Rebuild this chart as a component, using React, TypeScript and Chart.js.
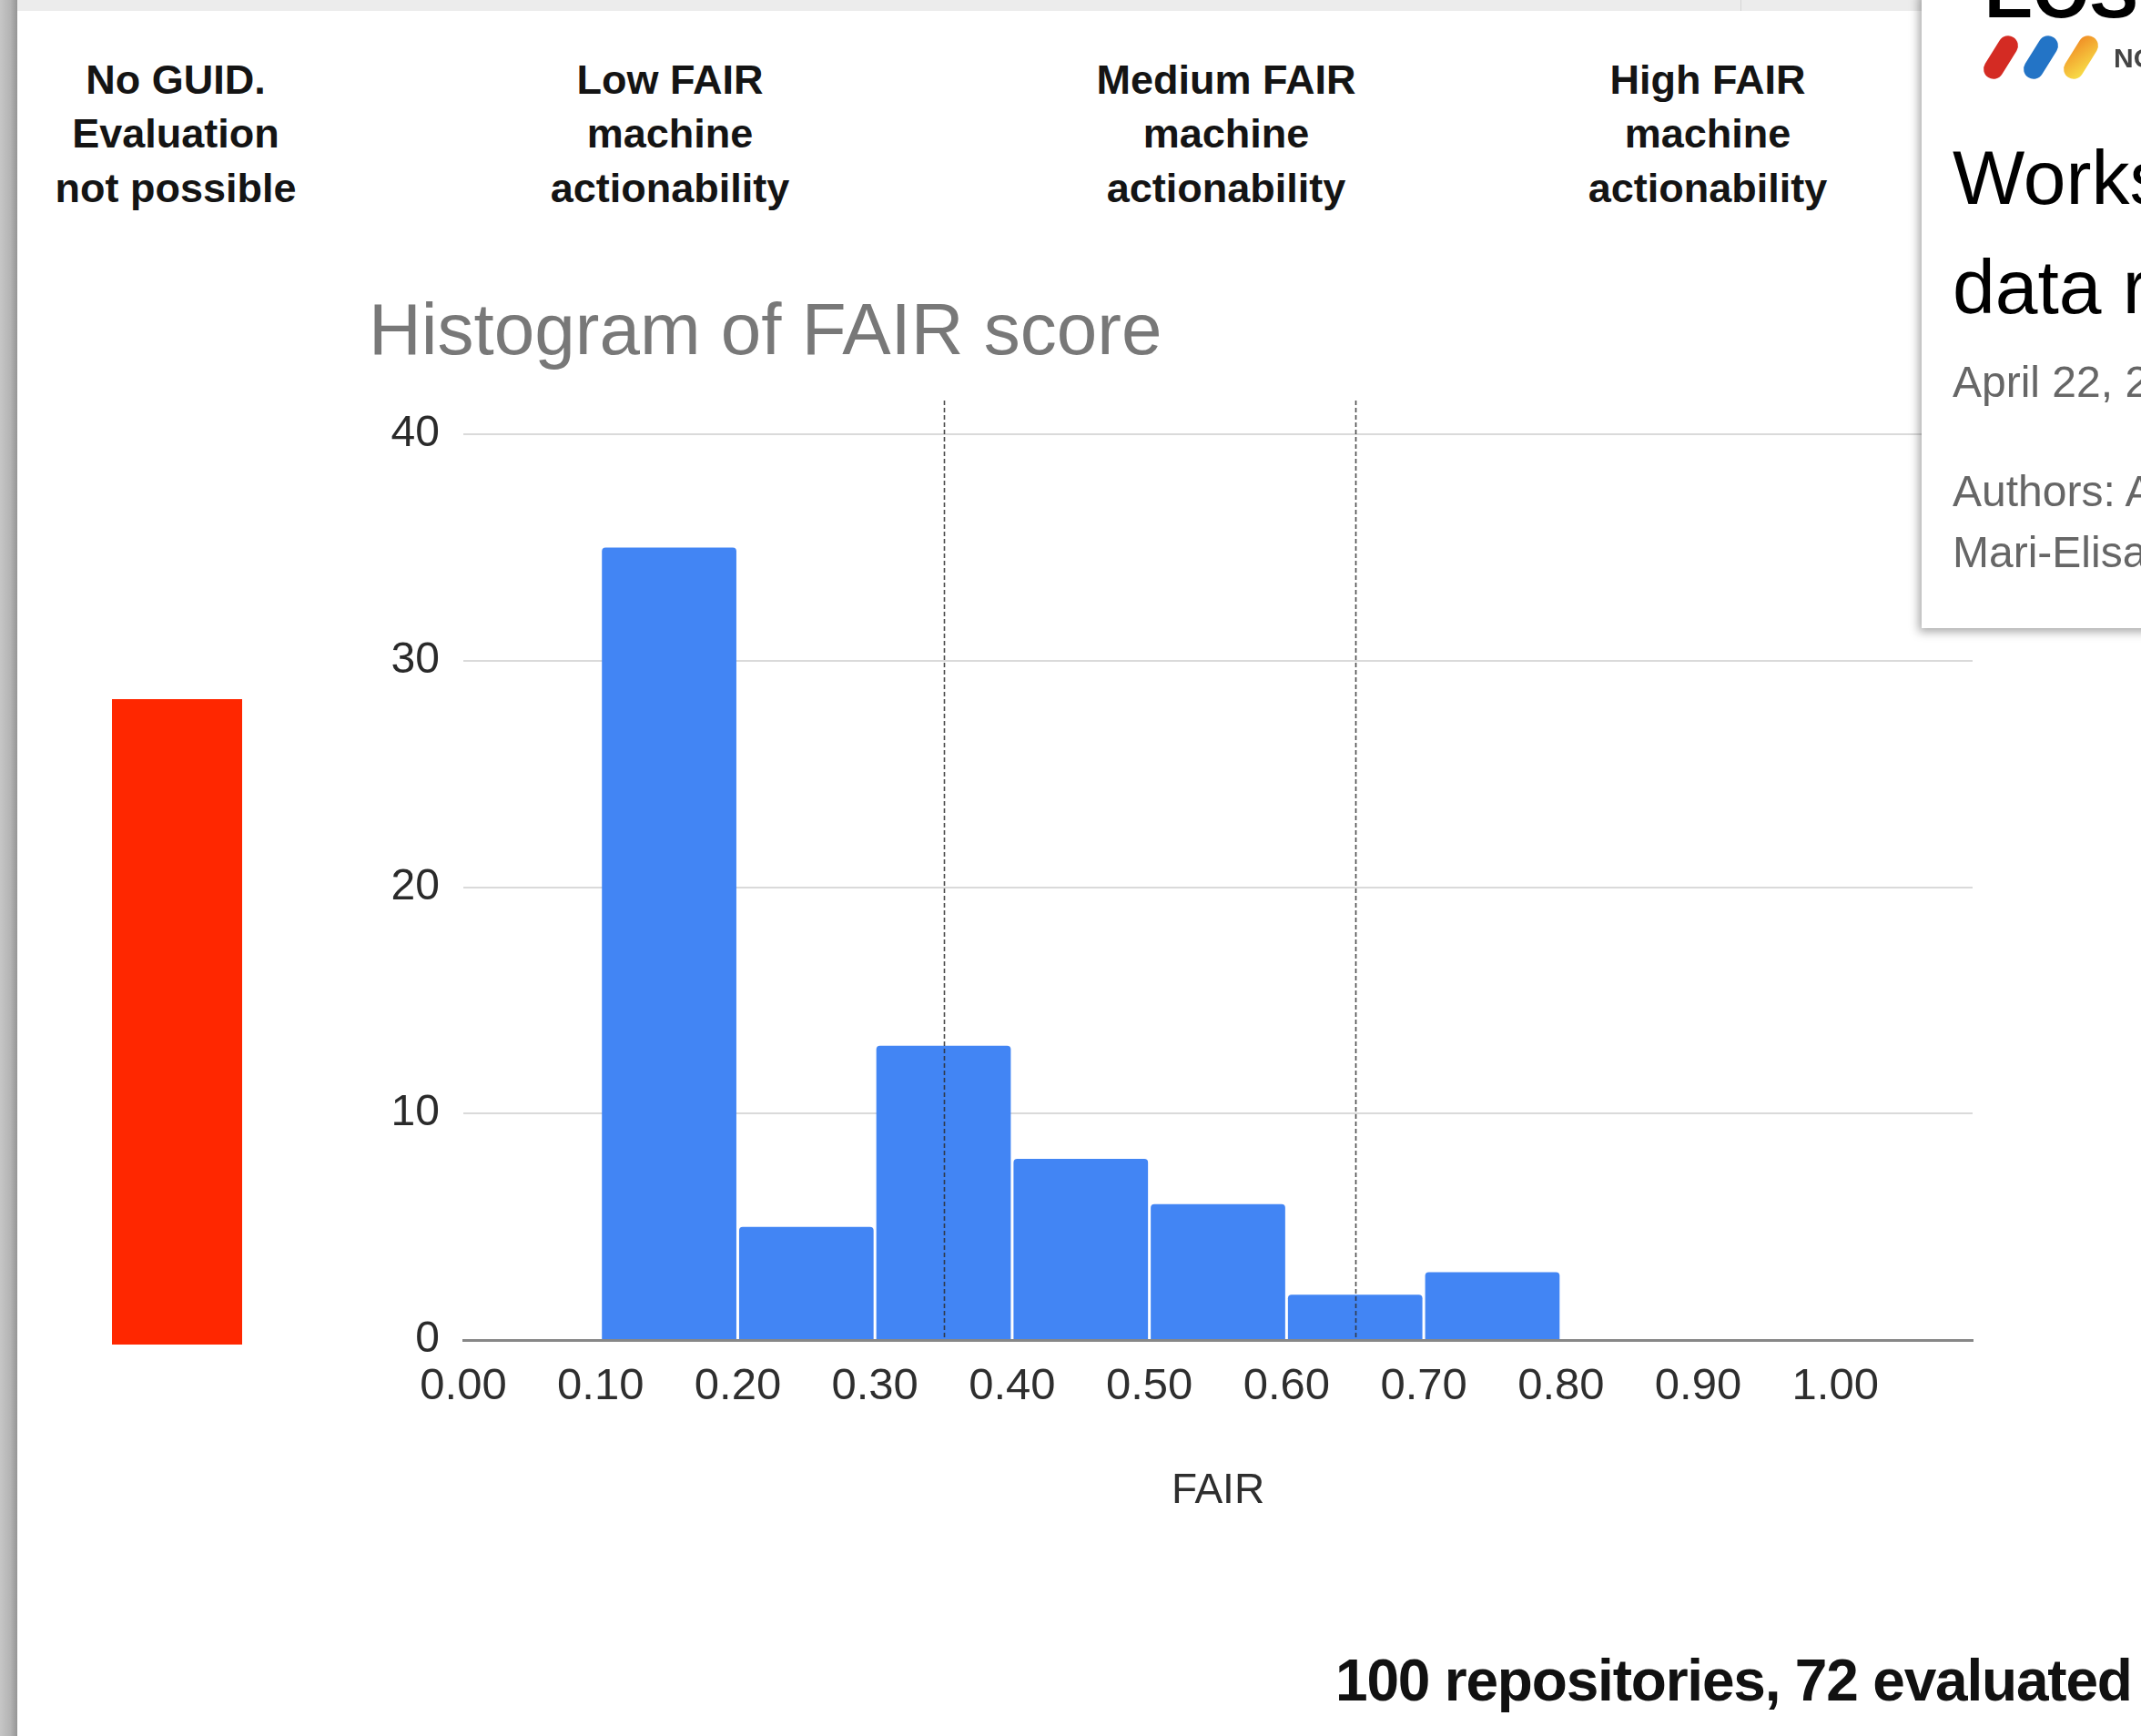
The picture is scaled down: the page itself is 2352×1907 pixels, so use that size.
import React, { useEffect, useRef } from 'react';
import { Chart, registerables } from 'chart.js';

Chart.register(...registerables);

// ---------- data ----------
const binStarts = [0.1, 0.2, 0.3, 0.4, 0.5, 0.6, 0.7];
const binCounts = [35, 5, 13, 8, 6, 2, 3];
const binWidth = 0.1;
const xTickValues = [0, 0.1, 0.2, 0.3, 0.4, 0.5, 0.6, 0.7, 0.8, 0.9, 1.0];
const yTickValues = [0, 10, 20, 30, 40];
const thresholds = [0.35, 0.65];
const notEvaluatedLabel = ['No GUID'];
const notEvaluatedCount = [28];
const categoryHeaders = [
  ['No GUID.', 'Evaluation', 'not possible'],
  ['Low FAIR', 'machine', 'actionability'],
  ['Medium FAIR', 'machine', 'actionability'],
  ['High FAIR', 'machine', 'actionability'],
];
const chartTitle = 'Histogram of FAIR score';
const xAxisTitle = 'FAIR';
const footerText = '100 repositories, 72 evaluated';
const cardTitleLines = ['Workshop on FAIR', 'data repositories'];
const cardDate = 'April 22, 2021';
const cardAuthors = ['Authors: A', 'Mari-Elisa'];

const FONT = '"Liberation Sans", Arial, Helvetica, sans-serif';

const headerCenters = [193, 736, 1347, 1876];

const thresholdPlugin = {
  id: 'thresholdLines',
  afterDatasetsDraw(chart: any) {
    const { ctx, chartArea, scales } = chart;
    const x = scales.x;
    thresholds.forEach((t) => {
      const px = Math.round(x.getPixelForValue(t)) + 0.5;
      ctx.save();
      ctx.strokeStyle = 'rgba(45,45,45,0.85)';
      ctx.lineWidth = 1.6;
      ctx.setLineDash([5, 3]);
      ctx.beginPath();
      ctx.moveTo(px, chartArea.top - 37);
      ctx.lineTo(px, chartArea.bottom);
      ctx.stroke();
      ctx.restore();
    });
  },
};

function HistogramChart() {
  const ref = useRef<HTMLCanvasElement | null>(null);
  useEffect(() => {
    if (!ref.current) return;
    const chart = new Chart(ref.current, {
      type: 'bar',
      data: {
        datasets: [
          {
            label: 'FAIR',
            data: binStarts.map((s, i) => ({ x: s + binWidth / 2, y: binCounts[i] })),
            backgroundColor: '#4285f4',
            borderWidth: 0,
            borderRadius: { topLeft: 4, topRight: 4, bottomLeft: 0, bottomRight: 0 },
            borderSkipped: 'bottom',
            barPercentage: 0.98,
            categoryPercentage: 1,
          },
        ],
      },
      options: {
        responsive: false,
        animation: false,
        devicePixelRatio: 1,
        layout: { padding: { left: 0, right: 8, top: 0, bottom: 0 } },
        plugins: {
          legend: { display: false },
          tooltip: { enabled: false },
          title: {
            display: true,
            text: chartTitle,
            align: 'start',
            color: '#787878',
            font: { family: FONT, size: 80, weight: 'normal' },
            padding: { top: 0, bottom: 62 },
          },
        },
        scales: {
          x: {
            type: 'linear',
            min: 0,
            max: 1.1,
            offset: false,
            afterBuildTicks: (scale: any) => {
              scale.ticks = xTickValues.map((v) => ({ value: v }));
            },
            afterFit: (scale: any) => {
              scale.height = 208;
            },
            grid: { display: false, drawTicks: false },
            border: { display: true, color: '#878787', width: 3 },
            ticks: {
              autoSkip: false,
              maxRotation: 0,
              padding: 22,
              color: '#2e2e2e',
              font: { family: FONT, size: 49 },
              callback: (v: any) => Number(v).toFixed(2),
            },
            title: {
              display: true,
              text: xAxisTitle,
              color: '#2e2e2e',
              font: { family: FONT, size: 46 },
              padding: { top: 0, bottom: 14 },
            },
          },
          y: {
            min: 0,
            max: 40,
            afterBuildTicks: (scale: any) => {
              scale.ticks = yTickValues.map((v) => ({ value: v }));
            },
            afterFit: (scale: any) => {
              scale.width = 104;
            },
            grid: {
              drawTicks: false,
              lineWidth: 2,
              color: (c: any) => (c.tick && c.tick.value === 0 ? 'rgba(0,0,0,0)' : '#dadada'),
            },
            border: { display: false },
            ticks: {
              padding: 26,
              color: '#2a2a2a',
              font: { family: FONT, size: 48 },
            },
          },
        },
      },
      plugins: [thresholdPlugin],
    } as any);
    return () => chart.destroy();
  }, []);
  return (
    <canvas
      ref={ref}
      width={1770}
      height={1361}
      style={{ position: 'absolute', left: 405, top: 319, width: 1770, height: 1361 }}
    />
  );
}

function NotEvaluatedChart() {
  const ref = useRef<HTMLCanvasElement | null>(null);
  useEffect(() => {
    if (!ref.current) return;
    const chart = new Chart(ref.current, {
      type: 'bar',
      data: {
        labels: notEvaluatedLabel,
        datasets: [
          {
            data: notEvaluatedCount,
            backgroundColor: '#ff2700',
            borderWidth: 0,
            barPercentage: 1,
            categoryPercentage: 1,
          },
        ],
      },
      options: {
        responsive: false,
        animation: false,
        devicePixelRatio: 1,
        layout: { padding: 0 },
        plugins: { legend: { display: false }, tooltip: { enabled: false } },
        scales: {
          x: { display: false },
          y: { display: false, min: 0, max: 28 },
        },
      },
    } as any);
    return () => chart.destroy();
  }, []);
  return (
    <canvas
      ref={ref}
      width={143}
      height={709}
      style={{ position: 'absolute', left: 123, top: 768, width: 143, height: 709 }}
    />
  );
}

// place text so that its baseline lands at `baseline` (line-height 1, Arial metrics)
function textTop(baseline: number, size: number) {
  return baseline - 0.8465 * size;
}

export default function App() {
  useEffect(() => {
    document.body.style.margin = '0';
  }, []);
  return (
    <div
      style={{
        position: 'relative',
        width: 2352,
        height: 1907,
        overflow: 'hidden',
        background: '#ffffff',
        fontFamily: FONT,
      }}
    >
      {/* top strip */}
      <div style={{ position: 'absolute', left: 0, top: 0, width: 2352, height: 12, background: '#ececec' }} />
      <div style={{ position: 'absolute', left: 1912, top: 0, width: 1, height: 12, background: '#d6d6d6' }} />
      {/* left edge */}
      <div
        style={{
          position: 'absolute',
          left: 0,
          top: 0,
          width: 19,
          height: 1907,
          background: 'linear-gradient(to right, #c6c6c6, #b4b4b4 60%, #959595)',
        }}
      />

      {/* category headers */}
      {categoryHeaders.map((lines, i) => (
        <div
          key={i}
          style={{
            position: 'absolute',
            left: headerCenters[i] - 250,
            top: 57.6,
            width: 500,
            textAlign: 'center',
            fontWeight: 'bold',
            fontSize: 45,
            lineHeight: '59.5px',
            color: '#141414',
          }}
        >
          {lines.map((l, j) => (
            <div key={j}>{l}</div>
          ))}
        </div>
      ))}

      <NotEvaluatedChart />
      <HistogramChart />

      {/* footer */}
      <div
        style={{
          position: 'absolute',
          left: 1467,
          top: textTop(1868, 64),
          fontSize: 64,
          lineHeight: 1,
          fontWeight: 'bold',
          letterSpacing: '-1.2px',
          whiteSpace: 'nowrap',
          color: '#111111',
        }}
      >
        {footerText}
      </div>

      {/* overlay card */}
      <div
        style={{
          position: 'absolute',
          left: 2111,
          top: -10,
          width: 300,
          height: 700,
          background: '#ffffff',
          boxShadow: '-3px 4px 10px rgba(0,0,0,0.35)',
          overflow: 'hidden',
        }}
      >
        <div
          style={{
            position: 'absolute',
            left: 69,
            top: textTop(30, 80),
            fontSize: 80,
            lineHeight: 1,
            fontWeight: 'bold',
            color: '#000',
            whiteSpace: 'nowrap',
          }}
        >
          EOSC
        </div>
        {[
          { cx: 87, bg: '#d42b23' },
          { cx: 131, bg: '#2374c6' },
          { cx: 175, bg: 'linear-gradient(to top right, #f8e34a, #f08a24)' },
        ].map((p, i) => (
          <div
            key={i}
            style={{
              position: 'absolute',
              left: p.cx - 26,
              top: 73 - 11,
              width: 52,
              height: 22,
              borderRadius: 11,
              background: p.bg,
              transform: 'rotate(-58deg)',
            }}
          />
        ))}
        <div
          style={{
            position: 'absolute',
            left: 211,
            top: textTop(84, 30),
            fontSize: 30,
            lineHeight: 1,
            fontWeight: 'bold',
            color: '#444',
            whiteSpace: 'nowrap',
          }}
        >
          NORDIC
        </div>
        <div
          style={{
            position: 'absolute',
            left: 34,
            top: textTop(234, 84),
            fontSize: 84,
            lineHeight: '120px',
            color: '#000',
            whiteSpace: 'nowrap',
          }}
        >
          <div style={{ lineHeight: 1, height: 120 }}>{cardTitleLines[0]}</div>
          <div style={{ lineHeight: 1 }}>{cardTitleLines[1]}</div>
        </div>
        <div
          style={{
            position: 'absolute',
            left: 34,
            top: textTop(447, 48),
            fontSize: 48,
            lineHeight: 1,
            color: '#666',
            whiteSpace: 'nowrap',
          }}
        >
          {cardDate}
        </div>
        <div
          style={{
            position: 'absolute',
            left: 34,
            top: textTop(567, 48),
            fontSize: 48,
            lineHeight: '67px',
            color: '#666',
            whiteSpace: 'nowrap',
          }}
        >
          <div style={{ lineHeight: 1, height: 67 }}>{cardAuthors[0]}</div>
          <div style={{ lineHeight: 1 }}>{cardAuthors[1]}</div>
        </div>
      </div>
    </div>
  );
}
